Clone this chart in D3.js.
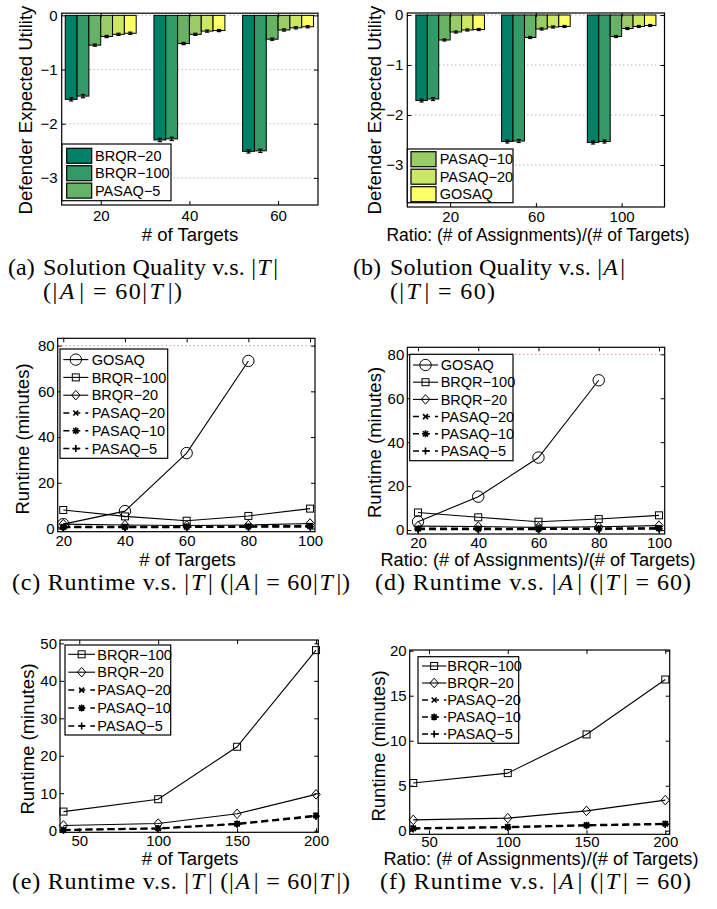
<!DOCTYPE html>
<html><head><meta charset="utf-8">
<script src="https://cdn.jsdelivr.net/npm/d3@7"></script>
<style>
html,body{margin:0;padding:0;background:#fff;}
svg{display:block;}
</style></head><body>
<svg id="fig" width="717" height="909"></svg>
<script>
// ================= DATA =================
// Bar charts (a) and (b): defender expected utility
const barSeriesNames = ["BRQR−20", "BRQR−100", "PASAQ−5", "PASAQ−10", "PASAQ−20", "GOSAQ"];
const barColors = ["#008066", "#339966", "#66b366", "#99cc66", "#cce666", "#ffff66"];

// (a) vs number of targets
const qualTargetCats = ["20", "40", "60"];
const qtBRQR20  = [-1.55, -2.30, -2.51];
const qtBRQR100 = [-1.49, -2.28, -2.50];
const qtPASAQ5  = [-0.55, -0.52, -0.44];
const qtPASAQ10 = [-0.39, -0.35, -0.27];
const qtPASAQ20 = [-0.35, -0.29, -0.23];
const qtGOSAQ   = [-0.33, -0.28, -0.21];
const qtErrBRQR = [0.03, 0.03, 0.03];
const qtErrPASAQ = [0.02, 0.02, 0.02];

// (b) vs ratio assignments/targets
const qualRatioCats = ["20", "60", "100"];
const qrBRQR20  = [-1.71, -2.53, -2.55];
const qrBRQR100 = [-1.68, -2.52, -2.53];
const qrPASAQ5  = [-0.50, -0.45, -0.43];
const qrPASAQ10 = [-0.34, -0.28, -0.27];
const qrPASAQ20 = [-0.30, -0.24, -0.23];
const qrGOSAQ   = [-0.29, -0.23, -0.21];
const qrErrBRQR = [0.03, 0.03, 0.03];
const qrErrPASAQ = [0.02, 0.02, 0.02];

const qualityTicks = [0, -1, -2, -3];

// Line charts: runtime (minutes)
// (c) vs number of targets
const rtTargetsX = [20, 40, 60, 80, 100];
const rtT_GOSAQ   = [1.9, 7.6, 33.0, 73.3];
const rtT_BRQR100 = [8.1, 5.3, 3.4, 5.5, 8.7];
const rtT_BRQR20  = [1.9, 1.5, 1.3, 1.5, 2.2];
const rtT_PASAQ20 = [0.9, 0.9, 0.9, 1.1, 1.3];
const rtT_PASAQ10 = [0.6, 0.6, 0.7, 0.8, 1.0];
const rtT_PASAQ5  = [0.4, 0.4, 0.5, 0.6, 0.7];

// (d) vs ratio
const rtRatioX = [20, 40, 60, 80, 100];
const rtR_GOSAQ   = [3.8, 15.2, 33.0, 68.2];
const rtR_BRQR100 = [8.0, 5.8, 3.8, 5.0, 6.7];
const rtR_BRQR20  = [1.8, 1.6, 1.2, 1.5, 2.0];
const rtR_PASAQ20 = [0.8, 0.8, 0.7, 0.9, 1.0];
const rtR_PASAQ10 = [0.5, 0.5, 0.5, 0.6, 0.7];
const rtR_PASAQ5  = [0.3, 0.3, 0.3, 0.4, 0.5];

const timeoutMinutes = 80;
const rtTicksCD = [0, 20, 40, 60, 80];
const rtXTicksCD = [20, 40, 60, 80, 100];

// (e) large targets
const rtLargeTX = [40, 100, 150, 200];
const rtLT_BRQR100 = [5.1, 8.4, 22.4, 48.2];
const rtLT_BRQR20  = [1.4, 1.9, 4.5, 9.7];
const rtLT_PASAQ20 = [0.3, 0.7, 1.9, 4.1];
const rtLT_PASAQ10 = [0.2, 0.6, 1.8, 4.0];
const rtLT_PASAQ5  = [0.1, 0.5, 1.7, 3.8];
const rtTicksE = [0, 10, 20, 30, 40, 50];

// (f) large ratio
const rtLargeRX = [40, 100, 150, 200];
const rtLR_BRQR100 = [5.3, 6.4, 10.7, 16.8];
const rtLR_BRQR20  = [1.2, 1.4, 2.2, 3.4];
const rtLR_PASAQ20 = [0.3, 0.45, 0.65, 0.8];
const rtLR_PASAQ10 = [0.25, 0.4, 0.6, 0.75];
const rtLR_PASAQ5  = [0.2, 0.35, 0.55, 0.7];
const rtTicksF = [0, 5, 10, 15, 20];
const rtXTicksEF = [50, 100, 150, 200];

// ================= DRAWING =================
const svg = d3.select("#fig");
svg.append("rect").attr("width", 717).attr("height", 909).attr("fill", "#fff");
const SANS = "'Liberation Sans', Arial, Helvetica, sans-serif";
const SERIF = "'Liberation Serif', 'Times New Roman', serif";
const TICK_FS = 15, LABEL_FS = 18.5, LEG_FS = 14.5;

function styleAxis(sel) {
  sel.select(".domain").remove();
  sel.selectAll(".tick line").attr("stroke", "#000").attr("stroke-width", 1);
  sel.selectAll("text").attr("font-family", SANS).attr("font-size", TICK_FS).attr("fill", "#000");
  sel.attr("font-family", SANS).attr("font-size", TICK_FS);
}
const fmtMinus = d => (d < 0 ? "−" + Math.abs(d) : String(d));

function frame(g, p, x, y, xTicks, xFmt, yTicks, yPad) {
  g.append("g").attr("transform", `translate(0,${p.y1})`)
    .call(d3.axisBottom(x).tickValues(xTicks).tickFormat(xFmt).tickSize(-4).tickPadding(p.xPad))
    .call(styleAxis);
  g.append("g").attr("transform", `translate(0,${p.y0})`)
    .call(d3.axisTop(x).tickValues(xTicks).tickFormat("").tickSize(-4))
    .call(styleAxis);
  g.append("g").attr("transform", `translate(${p.x0},0)`)
    .call(d3.axisLeft(y).tickValues(yTicks).tickFormat(fmtMinus).tickSize(-4).tickPadding(yPad))
    .call(styleAxis);
  g.append("g").attr("transform", `translate(${p.x1},0)`)
    .call(d3.axisRight(y).tickValues(yTicks).tickFormat("").tickSize(-4))
    .call(styleAxis);
  g.append("rect").attr("x", p.x0).attr("y", p.y0).attr("width", p.x1 - p.x0).attr("height", p.y1 - p.y0)
    .attr("fill", "none").attr("stroke", "#000").attr("stroke-width", 1.2);
  g.append("text").attr("x", p.xlx).attr("y", p.xly).attr("text-anchor", "middle")
    .attr("font-family", SANS).attr("font-size", p.xlfs || LABEL_FS).text(p.xlabel);
  g.append("text").attr("transform", `translate(${p.ylx},${p.yly}) rotate(-90)`)
    .attr("text-anchor", "middle").attr("dy", "0.35em")
    .attr("font-family", SANS).attr("font-size", LABEL_FS).text(p.ylabel);
}

function barPanel(p) {
  const g = svg.append("g");
  const x = d3.scaleLinear().domain(p.xDom).range([p.x0, p.x1]);
  const y = d3.scaleLinear().domain(p.yDom).range([p.y1, p.y0]);
  p.yTicks.forEach(t => {
    g.append("line").attr("x1", p.x0).attr("x2", p.x1).attr("y1", y(t)).attr("y2", y(t))
      .attr("stroke", "#999").attr("stroke-width", 1).attr("stroke-dasharray", "1,3");
  });
  const n = p.series.length, groupW = 0.8, bw = groupW / n;
  p.series.forEach((s, i) => {
    s.values.forEach((v, j) => {
      const cx = (j + 1) - groupW / 2 + bw * (i + 0.5);
      const xl = x(cx - bw / 2), xr = x(cx + bw / 2);
      g.append("rect").attr("x", xl).attr("width", xr - xl)
        .attr("y", y(0)).attr("height", y(v) - y(0))
        .attr("fill", s.color).attr("stroke", "#000").attr("stroke-width", 1);
    });
  });
  p.series.forEach((s, i) => {
    s.values.forEach((v, j) => {
      const cx = (j + 1) - groupW / 2 + bw * (i + 0.5);
      const e = s.err[j];
      const px = x(cx), cap = (x(bw) - x(0)) * 0.18;
      const ya = y(v - e), yb = y(v + e);
      g.append("line").attr("x1", px).attr("x2", px).attr("y1", ya).attr("y2", yb).attr("stroke", "#000").attr("stroke-width", 1.2);
      [ya, yb].forEach(yy => g.append("line").attr("x1", px - cap).attr("x2", px + cap).attr("y1", yy).attr("y2", yy).attr("stroke", "#000").attr("stroke-width", 1.2));
    });
  });
  frame(g, p, x, y, [1, 2, 3], (d, i) => p.cats[i], p.yTicks, 4);
  const L = p.legend;
  g.append("rect").attr("x", L.x0).attr("y", L.y0).attr("width", L.x1 - L.x0).attr("height", L.y1 - L.y0)
    .attr("fill", "#fff").attr("stroke", "#000").attr("stroke-width", 1.2);
  L.items.forEach((idx, k) => {
    const cy = L.rowY + k * L.rowStep;
    g.append("rect").attr("x", L.sx0).attr("y", cy - 7.5).attr("width", 25).attr("height", 15)
      .attr("fill", p.series[idx].color).attr("stroke", "#000").attr("stroke-width", 1.2);
    g.append("text").attr("x", L.tx).attr("y", cy).attr("dy", "0.36em")
      .attr("font-family", SANS).attr("font-size", LEG_FS).text(p.series[idx].name);
  });
}

function marker(g, type, cx, cy) {
  const st = { stroke: "#000", "stroke-width": 1, fill: "none" };
  const thick = { stroke: "#000", "stroke-width": 1.6, fill: "none" };
  const ap = (sel, o) => { Object.entries(o).forEach(([k, v]) => sel.attr(k, v)); return sel; };
  if (type === "circle") ap(g.append("circle").attr("cx", cx).attr("cy", cy).attr("r", 5.7), st);
  else if (type === "square") ap(g.append("rect").attr("x", cx - 3.5).attr("y", cy - 3.5).attr("width", 7).attr("height", 7), st);
  else if (type === "diamond") ap(g.append("path").attr("d", `M${cx},${cy - 4.8}L${cx + 4.2},${cy}L${cx},${cy + 4.8}L${cx - 4.2},${cy}Z`), st);
  else if (type === "x") ap(g.append("path").attr("d", `M${cx - 2.5},${cy - 2.5}L${cx + 2.5},${cy + 2.5}M${cx - 2.5},${cy + 2.5}L${cx + 2.5},${cy - 2.5}`), thick);
  else if (type === "asterisk") ap(g.append("path").attr("d", `M${cx - 3.5},${cy}L${cx + 3.5},${cy}M${cx},${cy - 3.5}L${cx},${cy + 3.5}M${cx - 2.6},${cy - 2.6}L${cx + 2.6},${cy + 2.6}M${cx - 2.6},${cy + 2.6}L${cx + 2.6},${cy - 2.6}`), thick);
  else if (type === "plus") ap(g.append("path").attr("d", `M${cx - 3.5},${cy}L${cx + 3.5},${cy}M${cx},${cy - 3.5}L${cx},${cy + 3.5}`), thick);
}

function linePanel(p) {
  const g = svg.append("g");
  const x = d3.scaleLinear().domain(p.xDom).range([p.x0, p.x1]);
  const y = d3.scaleLinear().domain(p.yDom).range([p.y1, p.y0]);
  if (p.timeout != null) {
    g.append("line").attr("x1", p.x0).attr("x2", p.x1).attr("y1", y(p.timeout)).attr("y2", y(p.timeout))
      .attr("stroke", "#f06060").attr("stroke-width", 1).attr("stroke-dasharray", "1,3");
  }
  const line = d3.line().x(d => x(d[0])).y(d => y(d[1]));
  p.series.slice().reverse().forEach(s => {
    const pts = s.values.map((v, i) => [s.xs[i], v]);
    g.append("path").attr("d", line(pts)).attr("fill", "none").attr("stroke", "#000")
      .attr("stroke-width", s.dashed ? 1.5 : 1.1)
      .attr("stroke-dasharray", s.dashed ? "7,4" : null);
    pts.forEach(pt => marker(g, s.marker, x(pt[0]), y(pt[1])));
  });
  frame(g, p, x, y, p.xTicks, d => String(d), p.yTicks, 3);
  const L = p.legend;
  g.append("rect").attr("x", L.x0).attr("y", L.y0).attr("width", L.x1 - L.x0).attr("height", L.y1 - L.y0)
    .attr("fill", "#fff").attr("stroke", "#000").attr("stroke-width", 1.2);
  p.series.forEach((s, k) => {
    const cy = L.rowY + k * L.rowStep;
    g.append("line").attr("x1", L.lx0).attr("x2", L.lx1).attr("y1", cy).attr("y2", cy)
      .attr("stroke", "#000").attr("stroke-width", s.dashed ? 1.5 : 1.1)
      .attr("stroke-dasharray", s.dashed ? "6,5" : null);
    marker(g, s.marker, (L.lx0 + L.lx1) / 2, cy);
    g.append("text").attr("x", L.tx).attr("y", cy).attr("dy", "0.36em")
      .attr("font-family", SANS).attr("font-size", LEG_FS).text(s.name);
  });
}

function mkBars(vals, errB, errP) {
  return vals.map((v, i) => ({ name: barSeriesNames[i], color: barColors[i], values: v, err: i < 2 ? errB : errP }));
}

barPanel({
  x0: 61.7, x1: 318, y0: 13.2, y1: 205, xDom: [0.56, 3.45], yDom: [-3.5, 0.04],
  cats: qualTargetCats, yTicks: qualityTicks, xPad: 5,
  series: mkBars([qtBRQR20, qtBRQR100, qtPASAQ5, qtPASAQ10, qtPASAQ20, qtGOSAQ], qtErrBRQR, qtErrPASAQ),
  xlabel: "# of Targets", xlx: 190, xly: 241, ylabel: "Defender Expected Utility", ylx: 26, yly: 110,
  legend: { x0: 62, x1: 171, y0: 144, y1: 200.7, items: [0, 1, 2], rowY: 155.8, rowStep: 17.4, sx0: 66.7, tx: 95 }
});
barPanel({
  x0: 407.3, x1: 664.5, y0: 13, y1: 207, xDom: [0.5, 3.5], yDom: [-3.84, 0.04],
  cats: qualRatioCats, yTicks: qualityTicks, xPad: 4,
  series: mkBars([qrBRQR20, qrBRQR100, qrPASAQ5, qrPASAQ10, qrPASAQ20, qrGOSAQ], qrErrBRQR, qrErrPASAQ),
  xlabel: "Ratio: (# of Assignments)/(# of Targets)", xlfs: 17.5, xlx: 538, xly: 241, ylabel: "Defender Expected Utility", ylx: 375, yly: 110,
  legend: { x0: 407.3, x1: 513, y0: 149, y1: 202.7, items: [3, 4, 5], rowY: 159.2, rowStep: 17.5, sx0: 411, tx: 439.7 }
});

const lineNames = ["GOSAQ", "BRQR−100", "BRQR−20", "PASAQ−20", "PASAQ−10", "PASAQ−5"];
const lineMarkers = ["circle", "square", "diamond", "x", "asterisk", "plus"];
const lineDashed = [false, false, false, true, true, true];
function mkLines(xs, vals, offset) {
  return vals.map((v, i) => ({ name: lineNames[i + offset], marker: lineMarkers[i + offset], dashed: lineDashed[i + offset], xs: xs, values: v }));
}

linePanel({
  x0: 57.7, x1: 315, y0: 338.3, y1: 531.7, xDom: [18.2, 101.6], yDom: [-1.4, 83.2],
  xTicks: rtXTicksCD, yTicks: rtTicksCD, xPad: 4, timeout: timeoutMinutes,
  series: mkLines(rtTargetsX, [rtT_GOSAQ, rtT_BRQR100, rtT_BRQR20, rtT_PASAQ20, rtT_PASAQ10, rtT_PASAQ5], 0),
  xlabel: "# of Targets", xlx: 187.5, xly: 566, ylabel: "Runtime (minutes)", ylx: 23, yly: 439,
  legend: { x0: 60, x1: 167.7, y0: 349, y1: 458.3, rowY: 359.6, rowStep: 17.8, lx0: 63.3, lx1: 88.3, tx: 91.7 }
});
linePanel({
  x0: 407.3, x1: 664.7, y0: 347.3, y1: 534, xDom: [16.45, 101.9], yDom: [-1.8, 83.2],
  xTicks: rtXTicksCD, yTicks: rtTicksCD, xPad: 3, timeout: timeoutMinutes,
  series: mkLines(rtRatioX, [rtR_GOSAQ, rtR_BRQR100, rtR_BRQR20, rtR_PASAQ20, rtR_PASAQ10, rtR_PASAQ5], 0),
  xlabel: "Ratio: (# of Assignments)/(# of Targets)", xlfs: 18.2, xlx: 538, xly: 566, ylabel: "Runtime (minutes)", ylx: 374.5, yly: 442.5,
  legend: { x0: 409.7, x1: 513, y0: 354.3, y1: 460.7, rowY: 365, rowStep: 17.2, lx0: 413, lx1: 438, tx: 440.7 }
});
linePanel({
  x0: 60, x1: 318.3, y0: 640, y1: 832.3, xDom: [37.8, 201.45], yDom: [-0.43, 50.9],
  xTicks: rtXTicksEF, yTicks: rtTicksE, xPad: 3,
  series: mkLines(rtLargeTX, [rtLT_BRQR100, rtLT_BRQR20, rtLT_PASAQ20, rtLT_PASAQ10, rtLT_PASAQ5], 1),
  xlabel: "# of Targets", xlx: 190, xly: 865, ylabel: "Runtime (minutes)", ylx: 27.5, yly: 739,
  legend: { x0: 65, x1: 170.7, y0: 645, y1: 735, rowY: 654.3, rowStep: 17.9, lx0: 68.3, lx1: 95, tx: 97.3 }
});
linePanel({
  x0: 409.7, x1: 669.7, y0: 650, y1: 834.3, xDom: [37.75, 202.8], yDom: [-0.4, 20.08],
  xTicks: rtXTicksEF, yTicks: rtTicksF, xPad: 2,
  series: mkLines(rtLargeRX, [rtLR_BRQR100, rtLR_BRQR20, rtLR_PASAQ20, rtLR_PASAQ10, rtLR_PASAQ5], 1),
  xlabel: "Ratio: (# of Assignments)/(# of Targets)", xlfs: 18.2, xlx: 541, xly: 865, ylabel: "Runtime (minutes)", ylx: 379, yly: 746,
  legend: { x0: 418, x1: 518.7, y0: 656.7, y1: 743.3, rowY: 666, rowStep: 17, lx0: 422, lx1: 446.3, tx: 447.3 }
});

// ================= CAPTIONS =================
// One text per caption line; {T}/{A} are the math letters, drawn in italic.
// textLength with lengthAdjust="spacing" only widens the gaps, never the glyphs.
const CAP_FS = 24;
function capLine(x, y, width, str) {
  const t = svg.append("text").attr("x", x).attr("y", y).attr("font-family", SERIF)
    .attr("font-size", CAP_FS).attr("fill", "#000");
  if (width) t.attr("textLength", width).attr("lengthAdjust", "spacing");
  str.split(/(\{[TA]\})/).filter(s => s.length).forEach(s => {
    if (s === "{T}" || s === "{A}") t.append("tspan").attr("font-style", "italic").attr("dx", 1).text(s[1] + "\u200A");
    else t.append("tspan").text(s);
  });
}

capLine(8, 275, null, "(a)");
capLine(43, 275, 235, "Solution Quality v.s. |{T}|");
capLine(43, 299, 139, "(|{A}| = 60|{T}|)");
capLine(353, 275, null, "(b)");
capLine(390, 275, 235, "Solution Quality v.s. |{A}|");
capLine(390, 299, 105, "(|{T}| = 60)");
capLine(12, 590, 338, "(c) Runtime v.s. |{T}| (|{A}| = 60|{T}|)");
capLine(375, 590, 316, "(d) Runtime v.s. |{A}| (|{T}| = 60)");
capLine(12, 889, 338, "(e) Runtime v.s. |{T}| (|{A}| = 60|{T}|)");
capLine(380, 889, 311, "(f) Runtime v.s. |{A}| (|{T}| = 60)");
</script>
</body></html>
